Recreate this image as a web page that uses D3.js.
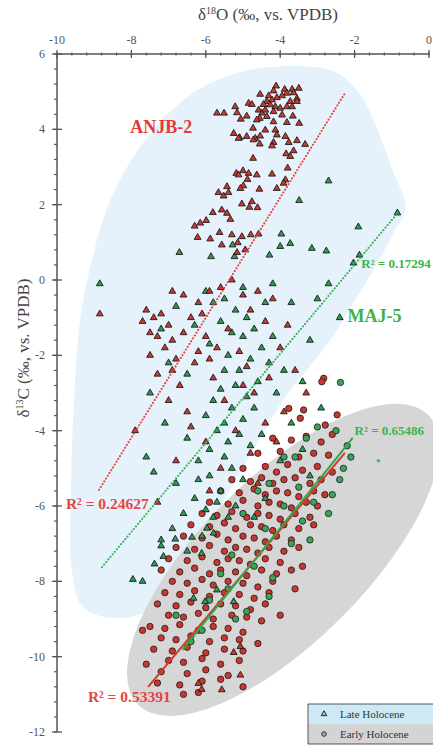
<!DOCTYPE html>
<html><head><meta charset="utf-8">
<script src="https://cdn.jsdelivr.net/npm/d3@7/dist/d3.min.js"></script>
<style>
html,body{margin:0;padding:0;background:#fff;}
svg{display:block;font-family:"Liberation Serif","Times New Roman",serif;}
</style></head>
<body>
<svg id="chart" width="433" height="748"></svg>
<script>
// ---- axis ticks ----
const xTicks = [-10, -8, -6, -4, -2, 0];
const yTicks = [6, 4, 2, 0, -2, -4, -6, -8, -10, -12];

// ---- regions (data coordinates) ----
const lateRegion = [[-3.46,5.68],[-2.52,5.52],[-1.90,4.99],[-1.44,4.12],[-0.98,2.92],[-0.63,1.91],[-0.98,1.20],[-1.57,0.13],[-2.11,-0.74],[-2.65,-1.59],[-3.92,-3.19],[-4.72,-4.51],[-5.75,-6.24],[-6.69,-7.83],[-7.50,-8.76],[-8.57,-8.97],[-9.33,-8.65],[-9.60,-7.70],[-9.62,-5.31],[-9.54,-3.19],[-9.38,-1.06],[-9.06,0.53],[-8.57,2.12],[-7.63,3.72],[-6.42,4.91],[-5.07,5.52]];
const earlyCenter = [-3.92, -7.43];

// ---- ANJB-2, Late Holocene (red triangles) ----
const anjbLate = [[-4.11,5.15],[-3.88,5.06],[-3.68,5.06],[-3.50,5.09],[-4.18,5.02],[-4.31,4.89],[-4.54,4.93],[-3.82,4.96],[-3.64,4.97],[-3.55,4.82],[-3.73,4.74],[-3.95,4.89],[-4.09,4.84],[-4.22,4.78],[-4.36,4.74],[-4.45,4.66],[-4.27,4.65],[-4.13,4.60],[-4.00,4.56],[-3.82,4.60],[-3.68,4.60],[-3.55,4.74],[-4.85,4.69],[-4.76,4.66],[-5.21,4.60],[-5.16,4.44],[-4.90,4.35],[-4.58,4.51],[-4.49,4.43],[-4.40,4.51],[-4.18,4.47],[-4.55,4.29],[-4.63,4.25],[-3.95,4.38],[-3.66,4.35],[-5.70,4.43],[-5.51,4.43],[-5.06,4.27],[-4.36,4.34],[-4.18,4.20],[-3.82,4.18],[-3.49,4.16],[-4.73,4.03],[-4.40,3.98],[-4.13,3.98],[-5.25,3.89],[-5.09,3.78],[-4.90,3.81],[-4.67,3.76],[-4.54,3.82],[-4.09,3.85],[-3.86,3.81],[-3.55,3.70],[-3.33,3.60],[-5.12,3.76],[-4.72,3.72],[-4.18,3.65],[-4.55,3.61],[-4.22,3.56],[-3.77,3.65],[-3.64,3.43],[-3.84,3.35],[-3.73,3.28],[-4.73,3.23],[-5.18,2.83],[-5.00,2.90],[-5.12,2.79],[-4.85,2.83],[-4.63,2.79],[-4.22,2.81],[-4.88,2.67],[-3.80,2.97],[-3.86,2.66],[-3.91,2.57],[-4.99,2.50],[-5.43,2.48],[-5.66,2.32],[-5.52,2.23],[-5.39,2.32],[-5.07,2.43],[-4.56,2.41],[-4.09,2.43],[-5.03,2.02],[-4.76,2.08],[-4.83,1.93],[-4.61,1.92],[-5.81,1.79],[-5.57,1.86],[-5.43,1.77],[-5.34,1.61],[-5.99,1.58],[-6.15,1.51],[-6.30,1.43],[-6.22,1.13],[-5.88,1.09],[-5.63,1.26],[-5.30,1.20],[-5.14,0.99],[-5.03,1.15],[-4.79,1.20],[-4.58,1.22],[-5.57,0.93],[-5.16,0.73],[-4.94,0.80],
[-8.85,-0.9],[-7.6,-0.8],[-7.4,-1.0],[-7.2,-0.9],[-7.0,-1.2],[-7.3,-1.5],[-6.9,-1.6],[-7.5,-2.0],[-6.6,-1.4],[-6.4,-1.0],[-6.2,-0.6],[-5.9,-0.3],[-5.6,-0.2],[-5.3,0.0],[-5.0,-0.4],[-4.8,-0.8],[-4.6,-0.3],[-4.4,-1.1],[-4.2,-0.5],[-6.0,-1.5],[-5.7,-1.8],[-5.4,-1.3],[-5.1,-1.9],[-4.9,-2.3],[-5.8,-2.6],[-6.3,-2.2],[-6.7,-2.8],[-7.0,-3.2],[-7.9,-4.0],[-6.5,-3.5],[-5.5,-3.2],[-4.7,-3.0],[-4.3,-2.6],[-4.0,-1.8],[-3.8,-1.2],[-3.6,-2.4],[-3.3,-3.0],[-5.2,-4.0],[-6.0,-4.3],[-6.8,-4.8],[-5.6,-5.0],[-4.8,-4.6],[-4.4,-3.8],[-3.9,-3.5],[-5.9,-5.6],[-4.6,-5.4],[-7.3,-5.9],[-6.4,-3.9],[-5.0,-2.8],[-6.1,-0.9],[-4.1,-4.3],
[-7.7,-1.1],[-7.5,-1.4],[-7.1,-1.8],[-6.8,-2.1],[-7.3,-2.5],[-6.9,-2.4],[-6.2,-1.9],[-5.9,-2.1],[-6.6,-0.4],[-6.9,-0.3],
[-5.07,-9.73],[-5.25,-9.89],[-5.57,-10.88],[-6.20,-10.71],[-5.07,-10.49],[-6.11,-10.87]];

// ---- MAJ-5, Late Holocene (green triangles) ----
const majLate = [[-0.85,1.78],[-1.90,1.41],[-1.87,0.66],[-2.03,0.45],[-2.70,2.63],[-3.49,2.11],[-3.97,1.22],[-3.73,0.97],[-4.00,0.89],[-3.15,0.84],[-2.76,0.77],[-6.71,0.73],[-5.86,0.62],[-5.23,0.62],[-4.29,0.66],[-5.28,0.93],[-8.85,-0.1],
[-6.0,-0.3],[-5.8,-0.6],[-5.5,-0.5],[-5.2,-0.8],[-4.9,-1.0],[-5.6,-1.1],[-5.3,-1.4],[-5.0,-1.5],[-4.7,-1.3],[-4.5,-1.8],[-5.4,-2.0],[-5.1,-2.4],[-4.8,-2.1],[-4.6,-2.7],[-4.3,-2.2],[-4.1,-3.0],[-5.6,-2.9],[-5.3,-3.4],[-5.0,-3.7],[-4.7,-3.4],[-4.5,-4.1],[-5.4,-4.3],[-5.7,-4.0],[-6.0,-3.6],[-6.2,-4.8],[-5.9,-5.2],[-5.6,-5.6],[-5.3,-5.0],[-5.0,-5.3],[-5.2,-6.0],[-6.3,-5.8],[-6.6,-6.2],[-6.9,-6.6],[-7.2,-6.9],[-7.7,-8.0],[-6.5,-7.2],[-6.1,-6.8],[-5.8,-6.3],[-4.4,-5.8],[-4.0,-4.8],[-3.7,-3.8],[-3.4,-2.7],[-3.2,-1.6],[-3.0,-0.5],[-2.7,-0.1],[-2.4,-1.0],[-3.7,-0.6],[-4.2,-0.1],[-6.8,-0.7],[-7.2,-1.3],[-7.0,-2.2],[-6.5,-2.5],[-7.5,-3.0],[-7.1,-3.8],[-7.6,-4.7],[-6.8,-5.4],[-7.4,-5.1],[-4.7,-6.3],[-3.4,-4.5],[-2.9,-3.4],[-3.2,-5.2],
[-6.3,-1.2],[-5.9,-1.7],[-5.5,-2.4],[-5.2,-2.8],[-4.9,-3.1],[-5.8,-3.2],[-5.5,-3.8],[-5.1,-4.1],[-4.8,-4.4],[-5.5,-4.7],[-5.9,-4.5],[-6.2,-5.3],[-5.7,-5.9],[-5.4,-6.3],[-6.0,-6.1],[-4.2,-1.5],[-3.9,-2.4],[-4.4,-0.6],[-5.0,-0.2],[-6.5,-4.2],
[-6.82,-6.88],[-7.20,-7.06],[-7.14,-7.34],[-7.38,-7.54],[-7.96,-7.95],[-6.37,-6.83],[-5.97,-6.59],[-5.79,-6.72],[-6.11,-7.26],[-6.33,-8.45],[-6.02,-8.54],[-5.70,-8.23],[-5.25,-8.54]];

// ---- ANJB-2, Early Holocene (red circles) ----
const anjbEarly = [[-2.83,-2.61],[-2.88,-2.70],[-3.77,-3.41],[-3.37,-3.45],[-3.46,-3.67],[-2.47,-3.58],[-2.79,-3.85],
[-4.2,-4.2],[-3.7,-4.25],[-3.3,-4.15],[-2.9,-4.3],[-2.6,-4.1],
[-4.6,-4.6],[-4.0,-4.55],[-3.5,-4.7],[-3.1,-4.6],[-2.7,-4.65],
[-5.0,-5.0],[-4.4,-4.95],[-4.1,-5.1],[-3.8,-4.9],[-3.4,-5.05],[-3.0,-4.95],[-2.6,-5.1],
[-5.3,-5.3],[-4.8,-5.35],[-4.5,-5.25],[-4.2,-5.4],[-3.9,-5.3],[-3.6,-5.25],[-3.2,-5.4],[-2.9,-5.3],
[-5.6,-5.6],[-5.1,-5.65],[-4.7,-5.55],[-4.4,-5.7],[-4.1,-5.6],[-3.8,-5.65],[-3.5,-5.75],[-3.1,-5.6],[-2.8,-5.7],
[-5.9,-5.9],[-5.4,-5.95],[-5.0,-5.85],[-4.6,-6.0],[-4.3,-5.9],[-4.0,-5.95],[-3.7,-6.05],[-3.3,-5.9],[-3.0,-6.0],
[-6.1,-6.2],[-5.7,-6.25],[-5.3,-6.15],[-4.9,-6.3],[-4.6,-6.2],[-4.3,-6.25],[-4.0,-6.35],[-3.6,-6.2],[-3.2,-6.3],
[-6.4,-6.5],[-5.9,-6.55],[-5.5,-6.45],[-5.2,-6.6],[-4.8,-6.5],[-4.5,-6.55],[-4.2,-6.65],[-3.9,-6.5],[-3.5,-6.6],[-3.1,-6.5],
[-6.6,-6.8],[-6.1,-6.85],[-5.7,-6.75],[-5.4,-6.9],[-5.0,-6.8],[-4.7,-6.85],[-4.4,-6.95],[-4.1,-6.8],[-3.7,-6.9],
[-6.8,-7.1],[-6.3,-7.15],[-5.9,-7.05],[-5.5,-7.2],[-5.2,-7.1],[-4.9,-7.15],[-4.6,-7.25],[-4.3,-7.1],[-3.9,-7.2],[-3.5,-7.1],
[-7.0,-7.4],[-6.5,-7.45],[-6.1,-7.35],[-5.7,-7.5],[-5.4,-7.4],[-5.1,-7.45],[-4.8,-7.55],[-4.4,-7.4],[-4.0,-7.5],
[-7.2,-7.7],[-6.7,-7.75],[-6.3,-7.65],[-5.9,-7.8],[-5.6,-7.7],[-5.2,-7.75],[-4.9,-7.85],[-4.5,-7.7],[-4.1,-7.8],[-3.7,-7.7],
[-6.9,-8.0],[-6.5,-8.05],[-6.1,-7.95],[-5.8,-8.1],[-5.4,-8.0],[-5.0,-8.05],[-4.6,-8.15],[-4.2,-8.0],
[-7.1,-8.3],[-6.7,-8.35],[-6.3,-8.25],[-5.9,-8.4],[-5.5,-8.3],[-5.1,-8.35],[-4.7,-8.45],[-4.3,-8.3],
[-7.3,-8.6],[-6.8,-8.65],[-6.4,-8.55],[-6.0,-8.7],[-5.6,-8.6],[-5.2,-8.65],[-4.8,-8.75],[-4.4,-8.6],
[-7.0,-8.9],[-6.6,-8.95],[-6.2,-8.85],[-5.8,-9.0],[-5.3,-8.9],[-4.9,-8.95],[-4.5,-9.05],
[-7.5,-9.2],[-7.1,-9.25],[-6.7,-9.15],[-6.2,-9.3],[-5.8,-9.2],[-5.4,-9.25],[-5.0,-9.35],
[-7.2,-9.5],[-6.8,-9.55],[-6.4,-9.45],[-5.9,-9.6],[-5.5,-9.5],[-5.1,-9.55],[-4.6,-9.65],
[-7.4,-9.8],[-6.9,-9.85],[-6.5,-9.75],[-6.0,-9.9],[-5.5,-9.8],[-5.0,-9.85],
[-7.0,-10.1],[-6.6,-10.15],[-6.1,-10.05],[-5.6,-10.2],[-5.1,-10.1],
[-7.2,-10.4],[-6.5,-10.45],[-6.0,-10.35],[-5.4,-10.5],
[-7.3,-10.7],[-6.7,-10.75],[-6.1,-10.65],[-5.6,-10.6],[-5.0,-10.8],
[-6.6,-11.0],[-6.2,-10.95],[-7.7,-9.3],[-7.6,-10.2],[-3.4,-7.6],[-3.6,-8.2],[-4.0,-8.9]];

// ---- MAJ-5, Early Holocene (green circles) ----
const majEarly = [[-2.38,-2.72],[-2.5,-4.0],[-3.0,-3.9],[-3.3,-4.2],[-2.2,-4.4],[-2.1,-4.7],[-2.3,-5.0],[-2.4,-5.3],[-3.6,-4.7],[-3.9,-4.7],[-4.3,-5.4],[-4.6,-5.6],[-3.9,-6.0],[-3.1,-5.9],[-3.4,-6.4],[-5.0,-6.2],[-4.4,-6.6],[-3.7,-7.0],[-5.3,-7.3],[-4.7,-7.6],[-4.2,-7.9],[-5.4,-8.2],[-5.9,-8.5],[-6.1,-9.3],[-6.4,-9.6],[-4.9,-8.8],[-4.3,-8.4],[-5.2,-9.0],[-3.2,-6.9],[-2.7,-6.2],[-2.6,-5.7],[-6.8,-8.9],[-5.6,-7.8],[-3.5,-5.5]];
const majEarlyOutlier = [[-1.36,-4.80]];

// ---- regression lines and labels ----
const fits = [
  {name:"ANJB-2 Late", pts:[[-8.87,-5.57],[-2.26,4.96]], color:"#e8423a", dotted:true},
  {name:"MAJ-5 Late", pts:[[-8.79,-7.62],[-0.84,1.78]], color:"#2fb24f", dotted:true},
  {name:"ANJB-2 Early", pts:[[-7.55,-10.8],[-2.26,-4.59]], color:"#d33a2c", dotted:false},
  {name:"MAJ-5 Early", pts:[[-6.63,-9.82],[-2.05,-4.19]], color:"#2fa84a", dotted:false}
];
const labels = [
  {text:"ANJB-2", x:-8.03, y:3.90, color:"#e53a35", size:18},
  {text:"MAJ-5", x:-2.19, y:-1.11, color:"#3bb54a", size:18},
  {text:"R² = 0.24627", x:-9.76, y:-6.08, color:"#e5463e", size:15.5},
  {text:"R² = 0.17294", x:-1.82, y:0.32, color:"#3bb54a", size:13},
  {text:"R² = 0.65486", x:-2.0, y:-4.11, color:"#3bb54a", size:13},
  {text:"R² = 0.53391", x:-9.17, y:-11.2, color:"#e5463e", size:15.5}
];
const legendItems = [{label:"Late Holocene", shape:"triangle", bg:"#cde9f6"},{label:"Early Holocene", shape:"circle", bg:"#d4d4d4"}];

// ---- drawing ----
const W = 433, H = 748;
const margin = {left:57, right:4, top:54, bottom:16};
const svg = d3.select("#chart");
const x = d3.scaleLinear().domain([-10, 0]).range([margin.left, W - margin.right]);
const y = d3.scaleLinear().domain([-12, 6]).range([H - margin.bottom, margin.top]);

svg.append("path")
  .attr("d", d3.line().x(d => x(d[0])).y(d => y(d[1])).curve(d3.curveCatmullRomClosed.alpha(0.5))(lateRegion))
  .attr("fill", "#e5f2fb");

svg.append("ellipse")
  .attr("cx", 0).attr("cy", 0).attr("rx", 205).attr("ry", 82)
  .attr("transform", `translate(${x(earlyCenter[0])},${y(earlyCenter[1])}) rotate(-45)`)
  .attr("fill", "#d6d6d6");

const red = "#c9372f", green = "#2e9a55", outline = "#1c1c1c";
const tri = d3.symbol().type(d3.symbolTriangle).size(20);

function circles(data, fill) {
  svg.append("g").selectAll("circle").data(data).join("circle")
    .attr("cx", d => x(d[0])).attr("cy", d => y(d[1])).attr("r", 3.2)
    .attr("fill", fill).attr("stroke", outline).attr("stroke-width", 0.8);
}
function triangles(data, fill) {
  svg.append("g").selectAll("path").data(data).join("path")
    .attr("d", tri).attr("transform", d => `translate(${x(d[0])},${y(d[1])})`)
    .attr("fill", fill).attr("stroke", outline).attr("stroke-width", 0.9);
}
circles(anjbEarly, red);
circles(majEarly, "#3aa55a");
svg.append("g").selectAll("circle").data(majEarlyOutlier).join("circle")
  .attr("cx", d => x(d[0])).attr("cy", d => y(d[1])).attr("r", 1.8).attr("fill", "#3cbf5a");
triangles(majLate, green);
triangles(anjbLate, red);

fits.forEach(f => {
  const ln = svg.append("line")
    .attr("x1", x(f.pts[0][0])).attr("y1", y(f.pts[0][1]))
    .attr("x2", x(f.pts[1][0])).attr("y2", y(f.pts[1][1]))
    .attr("stroke", f.color);
  if (f.dotted) ln.attr("stroke-width", 2).attr("stroke-dasharray", "0.1,3.2").attr("stroke-linecap", "round");
  else ln.attr("stroke-width", 2);
});

labels.forEach(l => {
  svg.append("text").attr("x", x(l.x)).attr("y", y(l.y))
    .attr("fill", l.color).attr("font-size", l.size).attr("font-weight", "bold")
    .text(l.text);
});

const axisColor = "#555";
const xAxis = svg.append("g").attr("transform", `translate(0,${margin.top})`);
xAxis.append("line").attr("x1", x(-10)).attr("x2", x(0)).attr("stroke", axisColor).attr("stroke-width", 1.5);
const xMinor = d3.range(-10, 0.001, 0.4);
xAxis.selectAll(".mn").data(xMinor).join("line")
  .attr("x1", d => x(d)).attr("x2", d => x(d)).attr("y1", -1.5).attr("y2", 1.5)
  .attr("stroke", axisColor).attr("stroke-width", 1.2);
xAxis.selectAll(".mj").data(xTicks).join("line")
  .attr("x1", d => x(d)).attr("x2", d => x(d)).attr("y1", -4).attr("y2", 4)
  .attr("stroke", axisColor).attr("stroke-width", 1.3);
xAxis.selectAll("text").data(xTicks).join("text")
  .attr("x", d => x(d)).attr("y", -10).attr("text-anchor", "middle")
  .attr("font-size", 12).attr("fill", "#555").text(d => d);

const yAxis = svg.append("g").attr("transform", `translate(${margin.left},0)`);
yAxis.append("line").attr("y1", y(6)).attr("y2", y(-12)).attr("stroke", axisColor).attr("stroke-width", 1.5);
const yMinor = d3.range(-12, 6.001, 0.4);
yAxis.selectAll(".mn").data(yMinor).join("line")
  .attr("y1", d => y(d)).attr("y2", d => y(d)).attr("x1", -3).attr("x2", 0)
  .attr("stroke", axisColor).attr("stroke-width", 1.2);
yAxis.selectAll(".mj").data(yTicks).join("line")
  .attr("y1", d => y(d)).attr("y2", d => y(d)).attr("x1", -5).attr("x2", 5)
  .attr("stroke", axisColor).attr("stroke-width", 1.3);
yAxis.selectAll("text").data(yTicks).join("text")
  .attr("x", -12).attr("y", d => y(d) + 4).attr("text-anchor", "end")
  .attr("font-size", 12).attr("fill", "#555").text(d => d);

const xt = svg.append("text").attr("x", 268).attr("y", 20).attr("text-anchor", "middle")
  .attr("font-size", 17).attr("fill", "#444");
xt.append("tspan").text("δ");
xt.append("tspan").attr("font-size", 10).attr("dy", -6).text("18");
xt.append("tspan").attr("dy", 6).text("O (‰, vs. VPDB)");
const yt = svg.append("text").attr("transform", `translate(29,348) rotate(-90)`).attr("text-anchor", "middle")
  .attr("font-size", 17).attr("fill", "#444");
yt.append("tspan").text("δ");
yt.append("tspan").attr("font-size", 10).attr("dy", -6).text("13");
yt.append("tspan").attr("dy", 6).text("C (‰, vs. VPDB)");

const lg = svg.append("g").attr("transform", "translate(308,704)");
const rowH = 20;
legendItems.forEach((it, i) => {
  const g = lg.append("g").attr("transform", `translate(0,${i * rowH})`);
  g.append("rect").attr("width", 130).attr("height", rowH).attr("fill", it.bg);
  if (it.shape === "triangle") {
    g.append("path").attr("d", d3.symbol().type(d3.symbolTriangle).size(14)).attr("transform", `translate(16,${rowH/2})`)
      .attr("fill", "#9fb8c2").attr("stroke", "#333").attr("stroke-width", 1);
  } else {
    g.append("circle").attr("cx", 16).attr("cy", rowH/2).attr("r", 2.3).attr("fill", "#aaa").attr("stroke", "#333").attr("stroke-width", 1);
  }
  g.append("text").attr("x", 32).attr("y", rowH/2 + 4).attr("font-size", 11).attr("fill", "#333").text(it.label);
});
lg.append("rect").attr("width", 130).attr("height", rowH * 2).attr("fill", "none").attr("stroke", "#333").attr("stroke-width", 0.8);
</script>
</body></html>
